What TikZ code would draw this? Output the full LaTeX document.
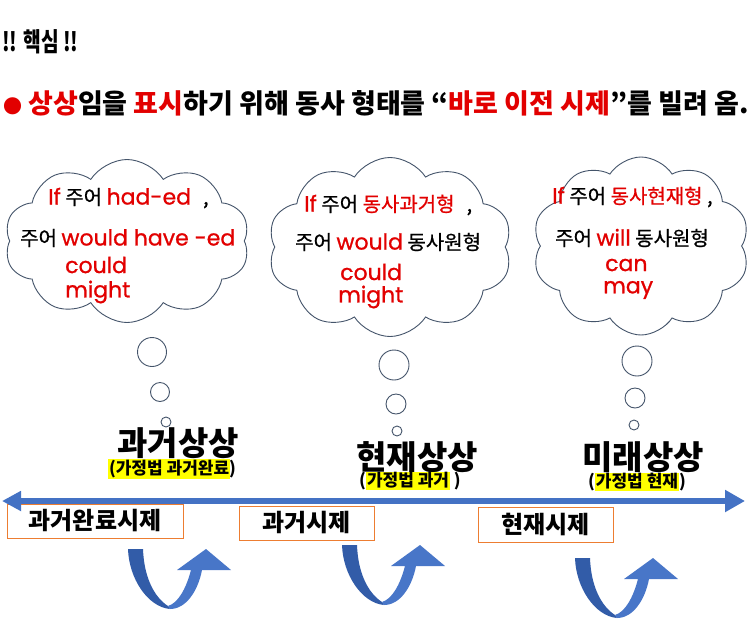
\documentclass[tikz,border=0pt]{standalone}
\usepackage{graphicx}
\usepackage{fontspec}
\setmainfont{Noto Sans CJK KR}
\newfontfamily\kr[FakeBold=0.7]{Noto Sans CJK KR}
\newfontfamily\en[FakeBold=0.9]{Poppins}
\usetikzlibrary{shapes.symbols,arrows.meta}
\definecolor{kred}{RGB}{226,0,0}
\definecolor{cloudline}{RGB}{68,84,106}
\definecolor{tblue}{RGB}{68,114,196}
\definecolor{udark}{RGB}{50,92,168}
\definecolor{ulight}{RGB}{72,118,200}
\definecolor{boxor}{RGB}{237,125,49}
\definecolor{hyel}{RGB}{255,255,0}
\newcommand\entx[1]{{\en\fontsize{22}{24}\selectfont\color{kred}#1}}
\begin{document}
\begin{tikzpicture}[x=1pt,y=-1pt,
  thought/.style={cloud, cloud puffs=10, cloud puff arc=115, cloud ignores aspect,
    draw=cloudline, line width=0.9pt, fill=white, inner sep=0pt},
  bubble/.style={circle, draw=cloudline, line width=0.9pt, fill=white, inner sep=0pt},
  ctext/.style={anchor=west, inner sep=0pt, font=\kr\fontsize{20}{24}\selectfont},
  heading/.style={font=\bfseries\fontsize{33}{36}\selectfont, inner sep=0pt},
  subhead/.style={font=\bfseries\fontsize{17}{20}\selectfont, inner sep=0pt},
  tense/.style={draw=boxor, line width=1pt, fill=white, inner sep=0pt,
    font=\bfseries\fontsize{24}{28}\selectfont},
  uturn/.pic={
    \fill[udark] (0,0) .. controls (1,30) and (20,58) .. (42,60) -- (40,57)
      .. controls (26,48) and (16,28) .. (15,0) -- cycle;
    \fill[ulight] (42,60) .. controls (58,60) and (70,42) .. (74,21) -- (103,21)
      -- (78,0) -- (49,21) -- (63,21) .. controls (58,40) and (50,54) .. (40,57) -- cycle;
  }]
\useasboundingbox (0,0) rectangle (752,625);
\fill[white] (0,0) rectangle (752,625);

% title lines
\node[anchor=west, inner sep=0pt, font=\bfseries\fontsize{26}{28}\selectfont] (title) at (2,42) {\scalebox{0.74}[1]{!! 핵심 !!}};
\node[anchor=west, inner sep=0pt, font=\bfseries\fontsize{27}{30}\selectfont] (lead) at (3,103)
  {{\color{kred}\fontsize{19}{20}\selectfont●} {\color{kred}상상}임을 {\color{kred}표시}하기 위해 동사 형태를 “{\color{kred}바로 이전 시제}”를 빌려 옴.};

% clouds
\node[thought, minimum width=245pt, minimum height=163pt] (cl1) at (127,241) {};
\node[thought, minimum width=244pt, minimum height=179pt] (cl2) at (390,247) {};
\node[thought, minimum width=217pt, minimum height=178pt] (cl3) at (641,246) {};

% bubbles
\node[bubble, minimum size=29pt] (b1a) at (152,352) {};
\node[bubble, minimum size=19pt] (b1b) at (160,392) {};
\node[bubble, minimum size=10pt] (b1c) at (166,422) {};
\node[bubble, minimum size=30pt] (b2a) at (394,365) {};
\node[bubble, minimum size=20pt] (b2b) at (396,404) {};
\node[bubble, minimum size=10pt] (b2c) at (397,431) {};
\node[bubble, minimum size=30pt] (b3a) at (637,361) {};
\node[bubble, minimum size=20pt] (b3b) at (635,398) {};
\node[bubble, minimum size=10pt] (b3c) at (634,425) {};

% cloud 1 text
\node[ctext] (c1a) at (48,198) {\entx{If} 주어 \entx{had-ed}\hspace{12pt},};
\node[ctext] (c1b) at (20,238) {주어 \entx{would have -ed}};
\node[ctext] (c1c) at (65,265) {\entx{could}};
\node[ctext] (c1d) at (65,292) {\entx{might}};
% cloud 2 text
\node[ctext] (c2a) at (304,205) {\entx{If} 주어 {\color{kred}동사과거형}\hspace{12pt},};
\node[ctext] (c2b) at (295,242) {주어 \entx{would} 동사원형};
\node[ctext] (c2c) at (340,272) {\entx{could}};
\node[ctext] (c2d) at (338,297) {\entx{might}};
% cloud 3 text
\node[ctext] (c3a) at (552,197) {\entx{If} 주어 {\color{kred}동사현재형} ,};
\node[ctext] (c3b) at (555,238) {주어 \entx{will} 동사원형};
\node[ctext] (c3c) at (605,265) {\entx{can}};
\node[ctext] (c3d) at (603,290) {\entx{may}};

% headings
\setlength{\fboxsep}{1pt}
\node[heading] (h1) at (178,443) {과거상상};
\node[subhead] (s1) at (172,469) {\colorbox{hyel}{(가정법 과거완료}\kern-1pt)};
\node[heading] (h2) at (417,457) {현재상상};
\node[subhead] (s2) at (410,481) {(\colorbox{hyel}{가정법 과거} )};
\node[heading] (h3) at (643,457) {미래상상};
\node[subhead] (s3) at (637,482) {(\colorbox{hyel}{가정법 현재})};

% tense boxes
\node[tense, minimum width=176pt, minimum height=34pt] (t1) at (95,521) {과거완료시제};
\node[tense, minimum width=135pt, minimum height=34pt] (t2) at (306.5,523) {과거시제};
\node[tense, minimum width=135pt, minimum height=35pt] (t3) at (545.5,524.5) {현재시제};

% timeline
\coordinate (tl) at (2,501);
\coordinate (tr) at (745,501);
\draw[tblue, line width=6pt, {Triangle[length=19pt,width=19pt]}-{Triangle[length=20pt,width=21pt]}] (tl) -- (tr);

% u-turn arrows
\pic (u1) at (128,549) {uturn};
\pic (u2) at (342,545) {uturn};
\pic (u3) at (575,558) {uturn};
\end{tikzpicture}
\end{document}
